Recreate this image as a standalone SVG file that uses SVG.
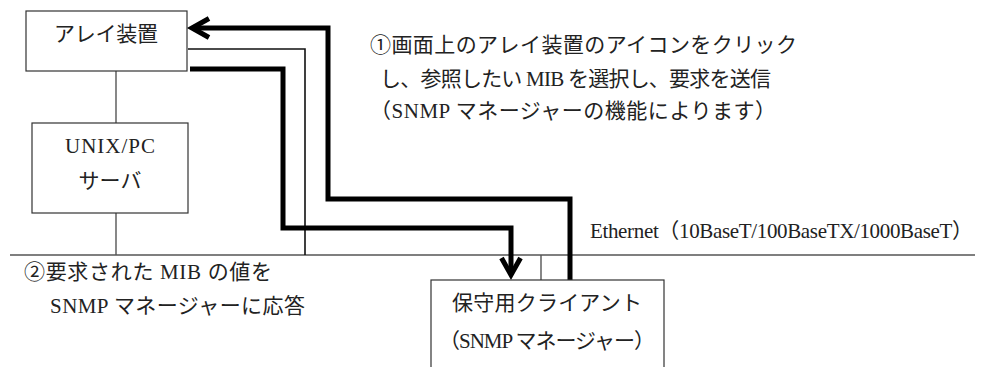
<svg xmlns="http://www.w3.org/2000/svg" width="984" height="367" viewBox="0 0 984 367">
<style>
text{font-family:"Liberation Serif","Noto Sans CJK JP",serif;font-size:21px;fill:#222}
.box{fill:#fff;stroke:#333;stroke-width:1.2}
.thin{fill:none;stroke:#111;stroke-width:1.6}
.gray{fill:none;stroke:#555;stroke-width:1.4}
.thick{fill:none;stroke:#000;stroke-width:5;stroke-linejoin:miter}
.mid{text-anchor:middle}
</style>
<defs>
<marker id="chev" markerUnits="userSpaceOnUse" viewBox="0 0 26 26" refX="20" refY="13" markerWidth="26" markerHeight="26" orient="auto" overflow="visible">
<path d="M3,3.5 L20,13 L3,22.5" fill="none" stroke="#000" stroke-width="5" stroke-linejoin="miter"/>
</marker>
</defs>
<g id="connectors">
<line class="gray" x1="10" y1="255" x2="975" y2="255"/>
<line class="gray" x1="116" y1="71" x2="116" y2="123"/>
<line class="gray" x1="116" y1="213" x2="116" y2="255"/>
<polyline class="thin" points="188,49 305,49 305,255"/>
<line class="gray" x1="541" y1="255" x2="541" y2="280"/>
<polyline class="thick" points="570,280 570,199 328,199 328,28 192,28" marker-end="url(#chev)"/>
<polyline class="thick" points="190,69 283,69 283,228 511,228 511,275" marker-end="url(#chev)"/>
</g>
<g id="array">
<rect class="box" x="26" y="11" width="161" height="60"/>
<text class="mid" x="106" y="41" textLength="104">アレイ装置</text>
</g>
<g id="server">
<rect class="box" x="32" y="123" width="156" height="90"/>
<text class="mid" x="110" y="153" textLength="90">UNIX/PC</text>
<text class="mid" x="110" y="188">サーバ</text>
</g>
<g id="client">
<rect class="box" x="431" y="280" width="233" height="100"/>
<text class="mid" x="547" y="310" textLength="190">保守用クライアント</text>
<text class="mid" x="547" y="348" textLength="216">（SNMP マネージャー）</text>
</g>
<g id="labels">
<text x="370" y="52" textLength="427">①画面上のアレイ装置のアイコンをクリック</text>
<text x="380" y="86" textLength="391">し、参照したい MIB を選択し、要求を送信</text>
<text x="370" y="118" textLength="406">（SNMP マネージャーの機能によります）</text>
<text x="590" y="238" textLength="383">Ethernet（10BaseT/100BaseTX/1000BaseT）</text>
<text x="24" y="279" textLength="248">②要求された MIB の値を</text>
<text x="50" y="313" textLength="255">SNMP マネージャーに応答</text>
</g>
</svg>
